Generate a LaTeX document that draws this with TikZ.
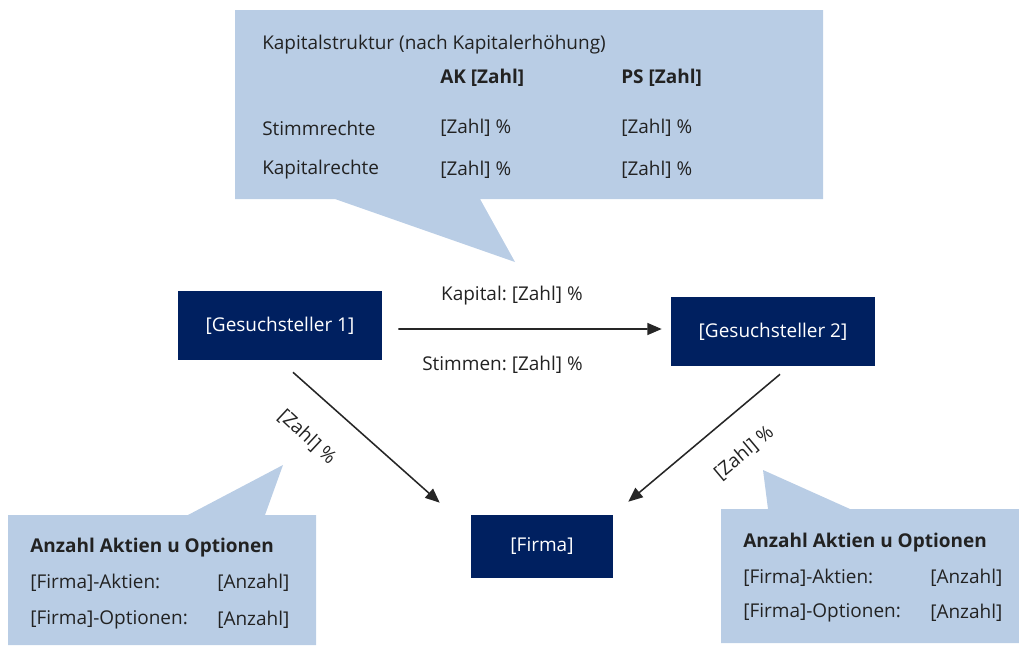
\documentclass[tikz,border=0pt]{standalone}
\usepackage{fontspec}
\setmainfont{Open Sans}
\usepackage{xcolor}
\usepackage{tikz}
\usetikzlibrary{arrows.meta,positioning,calc}
\definecolor{navy}{RGB}{0,32,96}
\definecolor{lightblue}{RGB}{185,205,229}
\definecolor{txtgray}{RGB}{34,34,34}
\frenchspacing
\begin{document}
\begin{tikzpicture}[
    x=0.025cm, y=-0.025cm,
    font=\fontsize{13.5}{16}\selectfont,
    partybox/.style={fill=navy, text=white, align=center, minimum width=5.1cm, minimum height=1.725cm},
    calloutbg/.style={fill=lightblue},
    txt/.style={anchor=west, text=txtgray, inner sep=0pt},
    boldtxt/.style={txt, font=\fontsize{13.5}{16}\selectfont\bfseries},
    arrow/.style={-{Triangle[length=3.6mm, width=3mm]}, line width=1.1pt, black!85}
  ]
  \useasboundingbox (0,0) rectangle (1019,646);

  \fill[calloutbg] (235,10) -- (823,10) -- (823,199) -- (480,199) -- (515,262) -- (335,199) -- (235,199) -- cycle;
  \fill[calloutbg] (8,515) -- (188,515) -- (283,465) -- (265,515) -- (316,515) -- (316,645) -- (8,645) -- cycle;
  \fill[calloutbg] (721,509) -- (768,509) -- (763,470) -- (850,509) -- (1019,509) -- (1019,643) -- (721,643) -- cycle;

  \node[txt] (kstitle) at (262,45) {Kapitalstruktur (nach Kapitalerhöhung)};
  \node[boldtxt] (akhead) at (440,78) {AK [Zahl]};
  \node[boldtxt] (pshead) at (621,78) {PS [Zahl]};
  \node[txt] (stimm) at (262,128) {Stimmrechte};
  \node[txt] (stimmak) at (440,128) {[Zahl] \%};
  \node[txt] (stimmps) at (621,128) {[Zahl] \%};
  \node[txt] (kap) at (262,170) {Kapitalrechte};
  \node[txt] (kapak) at (440,170) {[Zahl] \%};
  \node[txt] (kapps) at (621,170) {[Zahl] \%};

  \node[partybox] (g1) at (280,325.5) {[Gesuchsteller 1]};
  \node[partybox] (g2) at (773,331.5) {[Gesuchsteller 2]};
  \node[partybox, minimum width=3.55cm, minimum height=1.575cm] (firma) at (542,546.5) {[Firma]};

  \draw[arrow] ($(g1.east)+(16,3.5)$) -- ($(g2.west)+(-9,-2.5)$);
  \draw[arrow] ($(g1.south)+(13,12)$) -- ($(firma.north west)+(-31,-12)$);
  \draw[arrow] ($(g2.south)+(7,8)$) -- ($(firma.north east)+(15,-13)$);

  \node[txt, anchor=east] (kaplbl) at (583,296) {Kapital: [Zahl] \%};
  \node[txt, anchor=east] (stimmlbl) at (583,365) {Stimmen: [Zahl] \%};
  \node[text=txtgray, inner sep=0pt, rotate=-43] (lblleft) at (307,437) {[Zahl] \%};
  \node[text=txtgray, inner sep=0pt, rotate=40] (lblright) at (744,453) {[Zahl] \%};

  \node[boldtxt] (lhead) at (30,548) {Anzahl Aktien u Optionen};
  \node[txt] (laktien) at (30,583) {[Firma]-Aktien:};
  \node[txt] (laktnum) at (217,583) {[Anzahl]};
  \node[txt] (lopt) at (30,620) {[Firma]-Optionen:};
  \node[txt] (loptnum) at (217,620) {[Anzahl]};

  \node[boldtxt] (rhead) at (743,543) {Anzahl Aktien u Optionen};
  \node[txt] (raktien) at (743,578) {[Firma]-Aktien:};
  \node[txt] (raktnum) at (930,578) {[Anzahl]};
  \node[txt] (ropt) at (743,613) {[Firma]-Optionen:};
  \node[txt] (roptnum) at (930,613) {[Anzahl]};
\end{tikzpicture}
\end{document}
